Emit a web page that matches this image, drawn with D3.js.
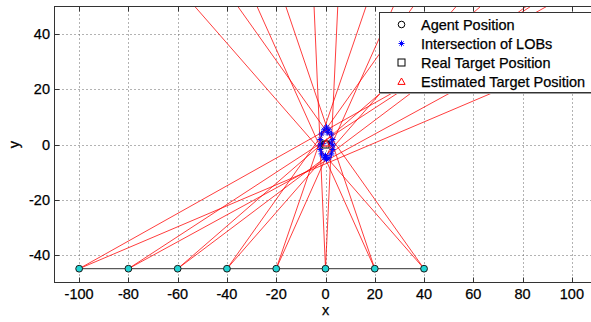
<!DOCTYPE html>
<html><head><meta charset="utf-8">
<script src="https://cdn.jsdelivr.net/npm/d3@7"></script>
<style>body{margin:0;background:#fff}svg{display:block}text{font-family:"Liberation Sans",Arial,sans-serif;stroke:#000;stroke-width:0.25px}</style>
</head><body><svg id="c" width="591" height="322"></svg>
<script>
// ---- data ----
const agentX = [-100, -80, -60, -40, -20, 0, 20, 40];
const agentY = [-45, -45, -45, -45, -45, -45, -45, -45];
// line-of-bearing angles (degrees from +x axis), two per agent
const lobAngleA = [26.6, 30.2, 37.7, 51.5, 69.0, 92.8, 116.7, 134.4];
const lobAngleB = [20.8, 26.0, 33.9, 45.6, 63.4, 87.0, 110.8, 128.5];
const interX = [0.4, -0.6, 1.4, -1.6, 2.4, -2.1, 2.9, -2.2, 3.0, -2.1, 2.9, -1.6, 2.4, -0.6, 1.4, 0.4, 1.8, -1.0, 0.9, 0.0];
const interY = [6.3, 5.3, 5.3, 3.8, 3.8, 1.8, 1.8, -0.2, -0.2, -1.8, -1.8, -3.4, -3.4, -4.8, -4.8, -5.4, 0.6, 0.3, 4.3, -4.0];
const realTarget = [0, 0];
const estTarget = [0.3, 0.3];
const xTicks = [-100, -80, -60, -40, -20, 0, 20, 40, 60, 80, 100];
const yTicks = [-40, -20, 0, 20, 40];
const legendLabels = ["Agent Position", "Intersection of LOBs", "Real Target Position", "Estimated Target Position"];

// ---- drawing ----
const svg = d3.select("#c");
const x = d3.scaleLinear().domain([-110, 110]).range([54.5, 596.5]);
const y = d3.scaleLinear().domain([-50, 50]).range([282.5, 6.5]);
const L = x.range()[0], R = x.range()[1], T = y.range()[1], B = y.range()[0];

svg.append("rect").attr("width", 591).attr("height", 322).attr("fill", "#fff");
svg.append("clipPath").attr("id", "pa").append("rect")
  .attr("x", L).attr("y", T).attr("width", R - L).attr("height", B - T);

// grid
const grid = svg.append("g").attr("stroke", "#666").attr("stroke-width", 1).attr("stroke-dasharray", "1,3");
xTicks.forEach(t => grid.append("line").attr("x1", Math.round(x(t)) + 0.5).attr("x2", Math.round(x(t)) + 0.5).attr("y1", T).attr("y2", B));
yTicks.forEach(t => grid.append("line").attr("y1", Math.round(y(t)) + 0.5).attr("y2", Math.round(y(t)) + 0.5).attr("x1", L).attr("x2", R));

// lines of bearing
const plot = svg.append("g").attr("clip-path", "url(#pa)");
const lobs = [];
agentX.forEach((ax, i) => {
  [lobAngleA[i], lobAngleB[i]].forEach(a => lobs.push({x0: ax, y0: agentY[i], a: a * Math.PI / 180}));
});
plot.selectAll("line.lob").data(lobs).join("line").attr("class", "lob")
  .attr("x1", d => x(d.x0)).attr("y1", d => y(d.y0))
  .attr("x2", d => x(d.x0 + 400 * Math.cos(d.a))).attr("y2", d => y(d.y0 + 400 * Math.sin(d.a)))
  .attr("stroke", "#ff0000").attr("stroke-width", 0.9).attr("stroke-opacity", 0.85);

// agent baseline
plot.append("line").attr("x1", x(d3.min(agentX))).attr("x2", x(d3.max(agentX)))
  .attr("y1", y(agentY[0])).attr("y2", y(agentY[0])).attr("stroke", "#333").attr("stroke-width", 1);

// intersections
const star = (g, cx, cy, r) => {
  g.append("path").attr("d",
    `M${cx - r},${cy}H${cx + r}M${cx},${cy - r}V${cy + r}M${cx - r * .7},${cy - r * .7}L${cx + r * .7},${cy + r * .7}M${cx - r * .7},${cy + r * .7}L${cx + r * .7},${cy - r * .7}`)
    .attr("stroke", "#0000ff").attr("stroke-width", 1).attr("fill", "none");
};
interX.forEach((ix, i) => star(plot, x(ix), y(interY[i]), 3));

// real target
plot.append("rect").attr("x", x(realTarget[0]) - 3.5).attr("y", y(realTarget[1]) - 3.5)
  .attr("width", 7).attr("height", 7).attr("fill", "none").attr("stroke", "#000");
// estimated target
const tri = (cx, cy, r) => `M${cx},${cy - r}L${cx + r * .9},${cy + r * .6}L${cx - r * .9},${cy + r * .6}Z`;
plot.append("path").attr("d", tri(x(estTarget[0]), y(estTarget[1]), 4)).attr("fill", "none").attr("stroke", "#ff0000");

// agents
plot.selectAll("circle.ag").data(agentX).join("circle").attr("class", "ag")
  .attr("cx", d => x(d)).attr("cy", (d, i) => y(agentY[i])).attr("r", 3.4)
  .attr("fill", "#22d4d4").attr("stroke", "#1a1a1a").attr("stroke-width", 1);

// axes box
const ax = svg.append("g").attr("stroke", "#333").attr("stroke-width", 1).attr("fill", "none");
ax.append("rect").attr("x", L).attr("y", T).attr("width", R - L).attr("height", B - T);
xTicks.forEach(t => {
  const px = Math.round(x(t)) + 0.5;
  ax.append("line").attr("x1", px).attr("x2", px).attr("y1", B).attr("y2", B - 5);
  ax.append("line").attr("x1", px).attr("x2", px).attr("y1", T).attr("y2", T + 5);
});
yTicks.forEach(t => {
  const py = Math.round(y(t)) + 0.5;
  ax.append("line").attr("x1", L).attr("x2", L + 5).attr("y1", py).attr("y2", py);
});

// tick labels
svg.append("g").selectAll("text").data(xTicks).join("text")
  .attr("x", d => x(d)).attr("y", 298.5).attr("text-anchor", "middle")
  .attr("font-size", 14.5).attr("fill", "#000").text(d => d);
svg.append("g").selectAll("text").data(yTicks).join("text")
  .attr("x", 50).attr("y", d => y(d) + 5).attr("text-anchor", "end")
  .attr("font-size", 14.5).attr("fill", "#000").text(d => d);
svg.append("text").attr("x", x(0)).attr("y", 315).attr("text-anchor", "middle").attr("font-size", 14.5).text("x");
svg.append("text").attr("transform", `translate(19,${y(0)}) rotate(-90)`).attr("text-anchor", "middle").attr("font-size", 14.5).text("y");

// legend
const lg = svg.append("g");
lg.append("rect").attr("x", 379.5).attr("y", 12.5).attr("width", 230).attr("height", 80)
  .attr("fill", "#fff").attr("stroke", "#333").attr("stroke-width", 1);
lg.append("line").attr("x1", 379.5).attr("x2", 600).attr("y1", 93.5).attr("y2", 93.5).attr("stroke", "#999").attr("stroke-width", 1);
legendLabels.forEach((s, i) => {
  lg.append("text").attr("x", 421).attr("y", 29.5 + i * 19).attr("font-size", 14.5).attr("fill", "#000").text(s);
});
const mx = 401.5;
lg.append("circle").attr("cx", mx).attr("cy", 24.5).attr("r", 3.3).attr("fill", "none").attr("stroke", "#000");
star(lg, mx, 43.5, 3);
lg.append("rect").attr("x", mx - 3.5).attr("y", 59).attr("width", 7).attr("height", 7).attr("fill", "none").attr("stroke", "#000");
lg.append("path").attr("d", tri(mx, 82, 4)).attr("fill", "none").attr("stroke", "#ff0000");
</script></body></html>
